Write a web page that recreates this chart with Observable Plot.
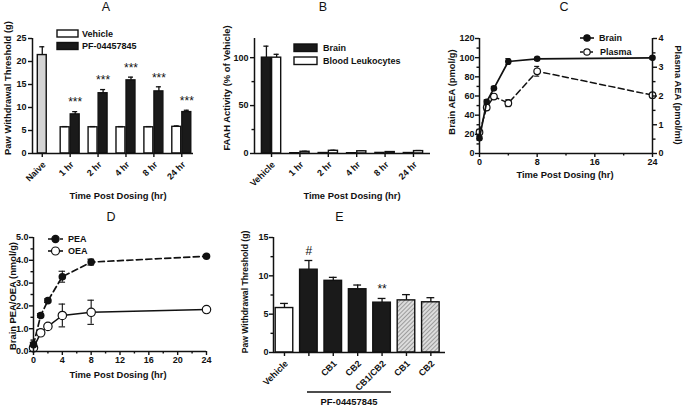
<!DOCTYPE html>
<html><head><meta charset="utf-8">
<script src="https://cdn.jsdelivr.net/npm/d3@7"></script>
<script src="https://cdn.jsdelivr.net/npm/@observablehq/plot@0.6"></script>
<style>
body{margin:0;background:#fff;}
#fig{position:relative;width:683px;height:406px;overflow:hidden;background:#fff;}
#fig svg{position:absolute;left:0;top:0;}
</style></head><body><div id="fig"></div>
<script>
// ---------- Panel A ----------
const catsA = ["Naive","1 hr","2 hr","4 hr","8 hr","24 hr"];
const naiveA = 21.4, naiveAErr = 1.8;
const vehicleA = [5.7,5.7,5.7,5.7,5.8];
const vehicleAErr = [0.15,0.15,0.15,0.15,0.2];
const pfA = [8.5,13.1,15.9,13.5,9.0];
const pfAErr = [0.6,0.8,0.7,1.0,0.4];
const sigA = ["***","***","***","***","***"];
const ticksA = [0,5,10,15,20,25];
// ---------- Panel B ----------
const catsB = ["Vehicle","1 hr","2 hr","4 hr","8 hr","24 hr"];
const brainB = [100,0.3,0.5,0.3,0.6,0.5];
const brainBErr = [12,0.2,0.2,0.2,0.2,0.2];
const leukB = [100,1.8,2.8,2.3,1.5,2.5];
const leukBErr = [3.5,0.5,0.6,0.5,0.4,0.6];
const ticksB = [0,50,100];
const minorB = [25,75];
// ---------- Panel C ----------
const timeC = [0,1,2,4,8,24];
const brainC = [16,54,68,96,98.8,99.8];
const brainCErr = [2,2,2,3,1.5,1.5];
const plasmaC = [0.74,1.6,1.98,1.75,2.86,2.03];
const plasmaCErr = [0.1,0.1,0.1,0.12,0.17,0.05];
const ticksCx = [0,8,16,24], minorCx = [4,12,20];
const ticksCy = [0,20,40,60,80,100,120], minorCy = [10,30,50,70,90,110];
const ticksCy2 = [0,1,2,3,4], minorCy2 = [0.5,1.5,2.5,3.5];
const plasmaToBrain = 30; // right axis 0-4 maps onto left 0-120
// ---------- Panel D ----------
const timeD = [0,1,2,4,8,24];
const peaD = [0.3,1.58,2.23,3.28,3.92,4.18];
const peaDErr = [0.1,0.08,0.08,0.24,0.13,0.06];
const oeaD = [0.16,0.82,1.1,1.58,1.72,1.84];
const oeaDErr = [0.1,0.08,0.08,0.5,0.53,0.05];
const ticksDx = [0,4,8,12,16,20,24], minorDx = [2,6,10,14,18,22];
const ticksDy = [0,1,2,3,4,5], minorDy = [0.5,1.5,2.5,3.5,4.5];
// ---------- Panel E ----------
const catsE = ["Vehicle","","CB1","CB2","CB1/CB2","CB1","CB2"];
const valE = [5.8,10.8,9.35,8.25,6.5,6.8,6.55];
const errE = [0.6,1.2,0.45,0.55,0.55,0.75,0.6];
const groupE = ["vehicle","pf","pf","pf","pf","antagonist","antagonist"];
const sigE = ["","#","","","**","",""];
const ticksE = [0,5,10,15], minorE = [2.5,7.5,12.5];

const W = 683, H = 406;
const FONT = '"Liberation Sans", Arial, Helvetica, sans-serif';
const INK = "#111";
const style = {background:"transparent", fontFamily:FONT, fontSize:"9px", fontWeight:"bold", color:INK, overflow:"visible"};
const fig = document.getElementById("fig");
function mk(box, x, y, marks){
  const svg = Plot.plot({width:W, height:H, marginLeft:box.l, marginRight:W-box.r, marginTop:box.t, marginBottom:H-box.b,
    x, y, color:{type:"identity"}, style, marks});
  fig.appendChild(svg);
  return svg;
}
const AX = {strokeWidth:1.4, label:null};
const noLab = () => "";
const catTicks = cats => Plot.axisX({...AX, ticks:d3.range(cats.length), tickSize:4, tickFormat:noLab});

// ----- A -----
const barsA = [{c:0, x1:-0.16, x2:0.16, v:naiveA, e:naiveAErr, fill:"#d4d4d4", sig:""}];
vehicleA.forEach((v,k)=>{ const c=k+1;
  barsA.push({c:c-0.18, x1:c-0.34, x2:c-0.02, v, e:vehicleAErr[k], fill:"white", sig:""});
  barsA.push({c:c+0.18, x1:c+0.02, x2:c+0.34, v:pfA[k], e:pfAErr[k], fill:"#1a1a1a", sig:sigA[k]});
});
const svgA = mk({l:32,r:193,t:38,b:153}, {domain:[-0.35,5.42]}, {domain:[0,25]}, [
  Plot.rect(barsA,{x1:"x1",x2:"x2",y1:0,y2:"v",fill:"fill",stroke:INK,strokeWidth:1.4}),
  Plot.ruleX(barsA,{x:"c",y1:"v",y2:d=>d.v+d.e,strokeWidth:1.3}),
  Plot.ruleY(barsA,{y:d=>d.v+d.e,x1:d=>d.c-0.09,x2:d=>d.c+0.09,strokeWidth:1.3}),
  Plot.text(barsA.filter(d=>d.sig),{x:"c",y:d=>d.v+d.e,text:"sig",dy:-9,fontSize:12,fontWeight:"normal"}),
  Plot.axisY({...AX, ticks:ticksA, tickSize:4, tickPadding:2}),
  catTicks(catsA),
  Plot.ruleX([-0.35],{strokeWidth:1.5}), Plot.ruleY([0],{strokeWidth:1.5})
]);

// ----- B -----
const barsB = [];
brainB.forEach((v,k)=>{
  barsB.push({c:k-0.18, x1:k-0.34, x2:k-0.02, v, e:brainBErr[k], fill:"#1a1a1a"});
  barsB.push({c:k+0.18, x1:k+0.02, x2:k+0.34, v:leukB[k], e:leukBErr[k], fill:"white"});
});
const svgB = mk({l:254,r:430,t:38,b:153}, {domain:[-0.6,5.6]}, {domain:[0,120]}, [
  Plot.ruleX(barsB,{x:"c",y1:"v",y2:d=>d.v+d.e,strokeWidth:1.3}),
  Plot.ruleY(barsB,{y:d=>d.v+d.e,x1:d=>d.c-0.09,x2:d=>d.c+0.09,strokeWidth:1.3}),
  Plot.rect(barsB,{x1:"x1",x2:"x2",y1:0,y2:"v",fill:"fill",stroke:INK,strokeWidth:1.4}),
  Plot.axisY({...AX, ticks:ticksB, tickSize:4, tickPadding:2}),
  Plot.axisY({...AX, ticks:minorB, tickSize:2.5, tickFormat:noLab}),
  catTicks(catsB),
  Plot.ruleX([-0.6],{strokeWidth:1.5}), Plot.ruleY([0],{strokeWidth:1.5})
]);

// ----- C -----
const ptsC = timeC.map((t,i)=>({t, b:brainC[i], be:brainCErr[i], p:plasmaC[i]*plasmaToBrain, pe:plasmaCErr[i]*plasmaToBrain}));
mk({l:479,r:652,t:38,b:153}, {domain:[0,24]}, {domain:[0,120]}, [
  Plot.line(ptsC,{x:"t",y:"p",strokeDasharray:"6,3.5",strokeWidth:1.5}),
  Plot.ruleX(ptsC,{x:"t",y1:d=>d.p-d.pe,y2:d=>d.p+d.pe,strokeWidth:1.1}),
  Plot.ruleY(ptsC.flatMap(d=>[{t:d.t,y:d.p-d.pe},{t:d.t,y:d.p+d.pe}]),{y:"y",x1:d=>d.t-0.35,x2:d=>d.t+0.35,strokeWidth:1.1}),
  Plot.dot(ptsC,{x:"t",y:"p",r:3.3,fill:"white",stroke:INK,strokeWidth:1.2}),
  Plot.line(ptsC,{x:"t",y:"b",strokeWidth:1.7}),
  Plot.ruleX(ptsC,{x:"t",y1:d=>d.b-d.be,y2:d=>d.b+d.be,strokeWidth:1.1}),
  Plot.ruleY(ptsC.flatMap(d=>[{t:d.t,y:d.b-d.be},{t:d.t,y:d.b+d.be}]),{y:"y",x1:d=>d.t-0.35,x2:d=>d.t+0.35,strokeWidth:1.1}),
  Plot.dot(ptsC,{x:"t",y:"b",r:3.3,fill:INK}),
  Plot.axisY({...AX, ticks:ticksCy, tickSize:4, tickPadding:1}),
  Plot.axisY({...AX, ticks:minorCy, tickSize:2.5, tickFormat:noLab}),
  Plot.axisY({...AX, anchor:"right", ticks:ticksCy2.map(v=>v*plasmaToBrain), tickFormat:d=>String(d/plasmaToBrain), tickSize:4, tickPadding:2}),
  Plot.axisY({...AX, anchor:"right", ticks:minorCy2.map(v=>v*plasmaToBrain), tickSize:2.5, tickFormat:noLab}),
  Plot.axisX({...AX, ticks:ticksCx, tickSize:4, tickPadding:1}),
  Plot.axisX({...AX, ticks:minorCx, tickSize:2.5, tickFormat:noLab}),
  Plot.ruleX([0],{strokeWidth:1.5}), Plot.ruleX([24],{strokeWidth:1.5}), Plot.ruleY([0],{strokeWidth:1.5})
]);

// ----- D -----
const ptsD = timeD.map((t,i)=>({t, a:peaD[i], ae:peaDErr[i], o:oeaD[i], oe:oeaDErr[i]}));
mk({l:33,r:206,t:237,b:351}, {domain:[0,24]}, {domain:[0,5]}, [
  Plot.line(ptsD,{x:"t",y:"o",strokeWidth:1.5}),
  Plot.ruleX(ptsD,{x:"t",y1:d=>d.o-d.oe,y2:d=>d.o+d.oe,strokeWidth:1.1}),
  Plot.ruleY(ptsD.flatMap(d=>[{t:d.t,y:d.o-d.oe},{t:d.t,y:d.o+d.oe}]),{y:"y",x1:d=>d.t-0.45,x2:d=>d.t+0.45,strokeWidth:1.1}),
  Plot.line(ptsD,{x:"t",y:"a",strokeDasharray:"6,3.5",strokeWidth:1.7}),
  Plot.ruleX(ptsD,{x:"t",y1:d=>d.a-d.ae,y2:d=>d.a+d.ae,strokeWidth:1.1}),
  Plot.ruleY(ptsD.flatMap(d=>[{t:d.t,y:d.a-d.ae},{t:d.t,y:d.a+d.ae}]),{y:"y",x1:d=>d.t-0.45,x2:d=>d.t+0.45,strokeWidth:1.1}),
  Plot.dot(ptsD,{x:"t",y:"o",r:4.2,fill:"white",stroke:INK,strokeWidth:1.2}),
  Plot.dot(ptsD,{x:"t",y:"a",r:3.8,fill:INK}),
  Plot.axisY({...AX, ticks:ticksDy, tickSize:4, tickPadding:1}),
  Plot.axisY({...AX, ticks:minorDy, tickSize:2.5, tickFormat:noLab}),
  Plot.axisX({...AX, ticks:ticksDx, tickSize:4, tickPadding:1}),
  Plot.axisX({...AX, ticks:minorDx, tickSize:2.5, tickFormat:noLab}),
  Plot.ruleX([0],{strokeWidth:1.5}), Plot.ruleY([0],{strokeWidth:1.5})
]);

// ----- E -----
const fillE = {vehicle:"white", pf:"#1a1a1a", antagonist:"url(#hatchE)"};
const barsE = valE.map((v,i)=>({c:i, x1:i-0.36, x2:i+0.36, v, e:errE[i], fill:fillE[groupE[i]], sig:sigE[i]}));
const svgE = mk({l:273,r:445,t:237,b:352}, {domain:[-0.45,6.6]}, {domain:[0,15]}, [
  Plot.ruleX(barsE,{x:"c",y1:"v",y2:d=>d.v+d.e,strokeWidth:1.3}),
  Plot.ruleY(barsE,{y:d=>d.v+d.e,x1:d=>d.c-0.16,x2:d=>d.c+0.16,strokeWidth:1.3}),
  Plot.rect(barsE,{x1:"x1",x2:"x2",y1:0,y2:"v",fill:"fill",stroke:INK,strokeWidth:1.4}),
  Plot.text(barsE.filter(d=>d.sig),{x:"c",y:d=>d.v+d.e,text:"sig",dy:-9,fontSize:12,fontWeight:"normal"}),
  Plot.axisY({...AX, ticks:ticksE, tickSize:4, tickPadding:1}),
  Plot.axisY({...AX, ticks:minorE, tickSize:2.5, tickFormat:noLab}),
  catTicks(catsE),
  Plot.ruleX([-0.45],{strokeWidth:1.5}), Plot.ruleY([0],{strokeWidth:1.5})
]);
d3.select(svgE).insert("defs",":first-child").html(
  '<pattern id="hatchE" width="3" height="3" patternUnits="userSpaceOnUse" patternTransform="rotate(45)">'+
  '<rect width="3" height="3" fill="#dcdcdc"/><line x1="0" y1="0" x2="0" y2="3" stroke="#666" stroke-width="1.1"/></pattern>');

// ----- overlay text: panel letters, axis titles, legends, slanted category labels -----
const ov = d3.select(fig).append("svg").attr("width",W).attr("height",H).style("font-family",FONT).attr("fill",INK);
function txt(x,y,s,o={}){
  ov.append("text").attr("x",x).attr("y",y).attr("text-anchor",o.anchor||"middle").attr("dominant-baseline","central")
    .attr("font-size",o.size||9.4).attr("font-weight",o.weight||"bold")
    .attr("transform",o.rot?`rotate(${o.rot},${x},${y})`:null).text(s);
}
// slanted tick labels placed with each panel's own x/y scales
function catLabels(svg, cats){
  const sx = svg.scale("x"), sy = svg.scale("y");
  const y0 = sy.apply(sy.domain[0]);
  cats.forEach((s,i)=>{ if (s) txt(sx.apply(i)+2.5, y0+10, s, {anchor:"end", rot:-45, size:9}); });
}
catLabels(svgA, catsA); catLabels(svgB, catsB); catLabels(svgE, catsE);

[["A",106,7],["B",323,7],["C",564,7],["D",111,217],["E",339.5,217]].forEach(([s,x,y])=>txt(x,y,s,{size:12.5,weight:"normal"}));
txt(7,88,"Paw Withdrawal Threshold (g)",{rot:-90});
txt(118,195,"Time Post Dosing (hr)");
txt(226,88,"FAAH Activity (% of Vehicle)",{rot:-90});
txt(352,195,"Time Post Dosing (hr)");
txt(451,92,"Brain AEA (pmol/g)",{rot:-90});
txt(678,95,"Plasma AEA (pmol/ml)",{rot:90});
txt(565,174.5,"Time Post Dosing (hr)");
txt(12,296,"Brain PEA/OEA (nmol/g)",{rot:-90});
txt(118,374,"Time Post Dosing (hr)");
txt(245,292,"Paw Withdrawal Threshold (g)",{rot:-90,size:8.6});
// legend A
function box(x,y,w,h,fill){ ov.append("rect").attr("x",x).attr("y",y).attr("width",w).attr("height",h).attr("fill",fill).attr("stroke",INK).attr("stroke-width",1.4); }
box(57,30,21,7,"white"); txt(82,33.5,"Vehicle",{anchor:"start",size:9});
box(57,42.5,21,7,"#1a1a1a"); txt(82,46,"PF-04457845",{anchor:"start",size:9});
// legend B
box(294,44,23,7.5,"#1a1a1a"); txt(323,47.8,"Brain",{anchor:"start",size:9});
box(294,57,23,7.5,"white"); txt(323,61,"Blood Leukocytes",{anchor:"start",size:9});
// legend C & D
function lineLeg(x1,x2,y,dash,filled,r,label,tx){
  ov.append("line").attr("x1",x1).attr("x2",x2).attr("y1",y).attr("y2",y).attr("stroke",INK).attr("stroke-width",1.6).attr("stroke-dasharray",dash);
  ov.append("circle").attr("cx",(x1+x2)/2).attr("cy",y).attr("r",r).attr("fill",filled?INK:"white").attr("stroke",INK).attr("stroke-width",1.2);
  txt(tx,y,label,{anchor:"start",size:9});
}
lineLeg(580,594,38,null,true,3.2,"Brain",599);
lineLeg(580,594,52,"3,2",false,3.2,"Plasma",600);
lineLeg(48,63,239,"4,2",true,3.6,"PEA",68);
lineLeg(48,63,251,null,false,4,"OEA",68);
// E group label
ov.append("line").attr("x1",307).attr("x2",391).attr("y1",392).attr("y2",392).attr("stroke",INK).attr("stroke-width",1.4);
txt(349,401,"PF-04457845",{size:9.4});
</script></body></html>
